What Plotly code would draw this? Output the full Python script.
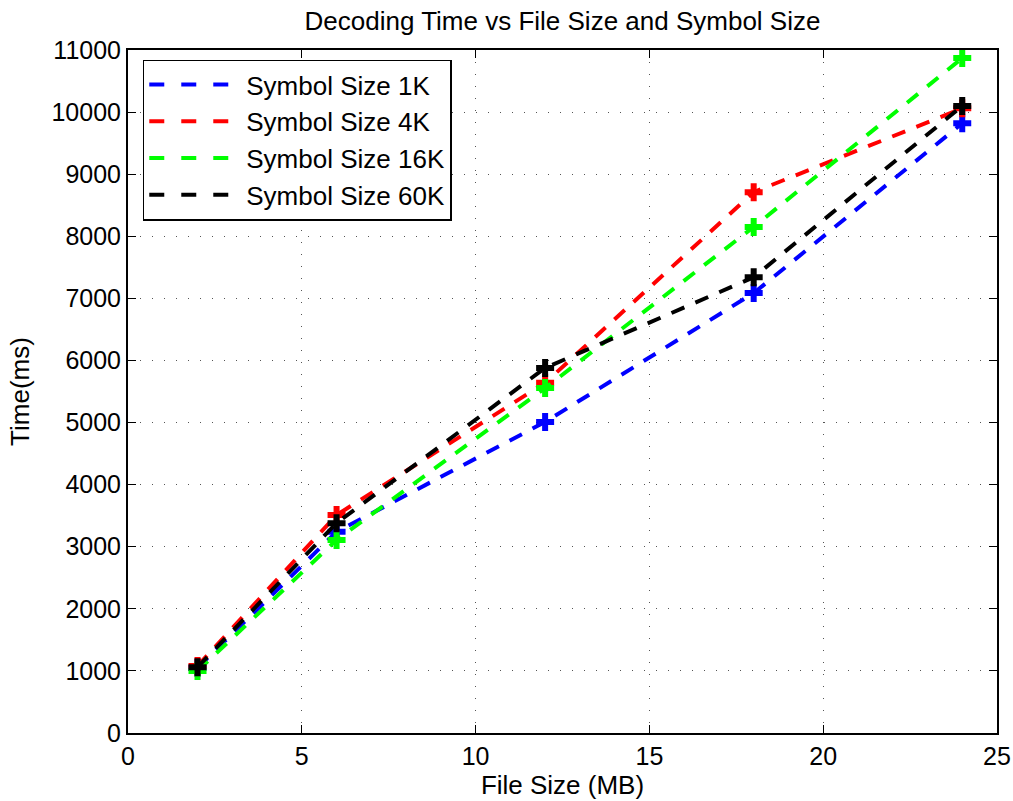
import plotly.graph_objects as go

file_size_mb = [2, 6, 12, 18, 24]
time_1k = [1050, 3240, 5010, 7085, 9820]
time_4k = [1080, 3510, 5640, 8710, 10060]
time_16k = [1000, 3110, 5555, 8150, 10870]
time_60k = [1060, 3380, 5880, 7340, 10100]

series = [
    ("Symbol Size 1K", time_1k, "#0000ff"),
    ("Symbol Size 4K", time_4k, "#ff0000"),
    ("Symbol Size 16K", time_16k, "#00ff00"),
    ("Symbol Size 60K", time_60k, "#000000"),
]

DASH = "14px,12px"
LEGEND_DASH = "15px,17px"

fig = go.Figure()
for name, ys, color in series:
    # data curve with plus markers (legend entry is drawn separately, line only)
    fig.add_trace(go.Scatter(
        x=file_size_mb, y=ys, name=name, mode="lines+markers",
        line=dict(color=color, width=4, dash=DASH),
        marker=dict(symbol="cross", size=15, color=color),
        showlegend=False, legendgroup=name,
    ))
for name, ys, color in series:
    fig.add_trace(go.Scatter(
        x=[None], y=[None], name=name, mode="lines",
        line=dict(color=color, width=4, dash=LEGEND_DASH),
        legendgroup=name, showlegend=True,
    ))

axis_common = dict(
    showline=True, linecolor="black", linewidth=2, mirror="ticks",
    ticks="inside", ticklen=8, tickcolor="black", tickwidth=1,
    showgrid=True, gridcolor="#555555", griddash="1px,11px", gridwidth=1,
    zeroline=False, tickfont=dict(size=25, color="black"),
    automargin=False, ticklabeloverflow="allow",
)

fig.update_layout(
    width=1013, height=801,
    margin=dict(l=128, r=16, t=50, b=68),
    paper_bgcolor="white", plot_bgcolor="white",
    font=dict(family="Liberation Sans, Arial, sans-serif", color="black"),
    title=dict(text="Decoding Time vs File Size and Symbol Size",
               x=0.5, xanchor="center", xref="paper",
               y=0.974, yanchor="middle", automargin=False,
               font=dict(size=26)),
    xaxis=dict(range=[0, 25], dtick=5, tickformat="d",
               title=dict(text="File Size (MB)", font=dict(size=26), standoff=2),
               **axis_common),
    yaxis=dict(range=[0, 11000], dtick=1000, tickformat="d",
               title=dict(text="Time(ms)", font=dict(size=26), standoff=14),
               **axis_common),
    legend=dict(x=0.017, y=0.986, xanchor="left", yanchor="top",
                bgcolor="white", bordercolor="black", borderwidth=1.5,
                font=dict(size=26), itemwidth=92, tracegroupgap=0,
                entrywidth=316, entrywidthmode="pixels",
                traceorder="grouped"),
    showlegend=True,
)

fig.write_html("out.html")
